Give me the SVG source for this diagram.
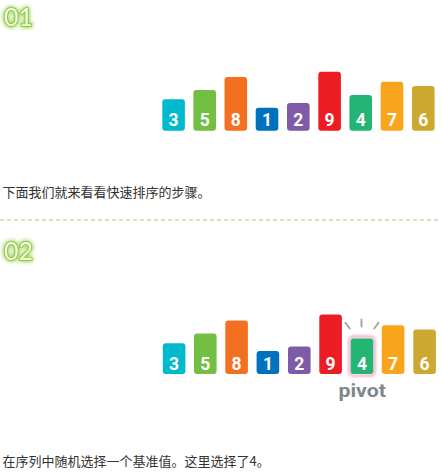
<svg xmlns="http://www.w3.org/2000/svg" width="441" height="472" viewBox="0 0 441 472">
<defs>
<filter id="glow" x="-50%" y="-50%" width="200%" height="200%">
<feGaussianBlur in="SourceAlpha" stdDeviation="2.2" result="b"/>
<feFlood flood-color="#9ed45a" result="c"/>
<feComposite in="c" in2="b" operator="in" result="g"/>
<feMerge><feMergeNode in="g"/><feMergeNode in="g"/><feMergeNode in="SourceGraphic"/></feMerge>
</filter>
<filter id="pinkglow" x="-50%" y="-50%" width="200%" height="200%">
<feGaussianBlur stdDeviation="1"/>
</filter>
<linearGradient id="hg" x1="0" y1="0" x2="0" y2="1">
<stop offset="0" stop-color="#ffffff"/>
<stop offset="1" stop-color="#eef9c8"/>
</linearGradient>
</defs>
<style>
.head{font-family:Lato,"Open Sans",sans-serif;font-size:25px;fill:url(#hg);stroke:#86c23a;stroke-width:1.7;paint-order:stroke;filter:url(#glow)}
.num{font-family:Roboto,"DejaVu Sans",sans-serif;font-weight:bold;font-size:17.5px;fill:#ffffff;text-anchor:middle}
.cap{font-family:"Noto Sans CJK SC","Liberation Sans",sans-serif;font-size:13px;fill:#333333}
.c3{fill:#00b9cd}.c5{fill:#72bf44}.c8{fill:#f37021}.c1{fill:#0071bc}.c2{fill:#7f5aa6}.c9{fill:#ed1c24}.c4{fill:#23b574}.c7{fill:#f8a51c}.c6{fill:#cda830}
.ray{stroke:#a8a8a8;stroke-width:2;stroke-linecap:round;fill:none}
</style>

<rect width="441" height="472" fill="#ffffff"/>

<g id="heading-01"><text class="head" x="4" y="26">01</text></g>

<g id="step1-bars">
<g id="s1-3"><rect class="c3" x="162.3" y="99.3" width="22.6" height="31.4" rx="3"/><text class="num" x="173.6" y="126.2">3</text></g>
<g id="s1-5"><rect class="c5" x="193.4" y="90" width="22.6" height="40.7" rx="3"/><text class="num" x="204.7" y="126.2">5</text></g>
<g id="s1-8"><rect class="c8" x="224.5" y="77" width="22.6" height="53.7" rx="3"/><text class="num" x="235.8" y="126.2">8</text></g>
<g id="s1-1"><rect class="c1" x="255.7" y="107.7" width="22.6" height="23" rx="3"/><text class="num" x="267" y="126.2">1</text></g>
<g id="s1-2"><rect class="c2" x="287" y="103" width="22.6" height="27.7" rx="3"/><text class="num" x="298.3" y="126.2">2</text></g>
<g id="s1-9"><rect class="c9" x="318.3" y="71.7" width="22.6" height="59" rx="3"/><text class="num" x="329.6" y="126.2">9</text></g>
<g id="s1-4"><rect class="c4" x="349.4" y="95" width="22.6" height="35.7" rx="3"/><text class="num" x="360.7" y="126.2">4</text></g>
<g id="s1-7"><rect class="c7" x="380.7" y="81.7" width="22.6" height="49" rx="3"/><text class="num" x="392" y="126.2">7</text></g>
<g id="s1-6"><rect class="c6" x="412" y="86" width="22.6" height="44.7" rx="3"/><text class="num" x="423.3" y="126.2">6</text></g>
</g>

<g id="caption-1"><text class="cap" x="2.5" y="196.5">下面我们就来看看快速排序的步骤。</text></g>

<g id="divider"><line x1="0" y1="219.8" x2="441" y2="219.8" stroke="#b7dc8c" stroke-width="1.2" stroke-dasharray="4 3"/></g>

<g id="heading-02"><text class="head" x="4" y="259.5">02</text></g>

<g id="step2-bars">
<g id="s2-3"><rect class="c3" x="162.8" y="343.2" width="22.6" height="30.8" rx="3"/><text class="num" x="174.1" y="369.6">3</text></g>
<g id="s2-5"><rect class="c5" x="194" y="333.4" width="22.6" height="40.6" rx="3"/><text class="num" x="205.3" y="369.6">5</text></g>
<g id="s2-8"><rect class="c8" x="225.3" y="320.6" width="22.6" height="53.4" rx="3"/><text class="num" x="236.6" y="369.6">8</text></g>
<g id="s2-1"><rect class="c1" x="256.6" y="351.1" width="22.6" height="22.9" rx="3"/><text class="num" x="267.9" y="369.6">1</text></g>
<g id="s2-2"><rect class="c2" x="288" y="346.6" width="22.6" height="27.4" rx="3"/><text class="num" x="299.3" y="369.6">2</text></g>
<g id="s2-9"><rect class="c9" x="319.3" y="314.5" width="22.6" height="59.5" rx="3"/><text class="num" x="330.6" y="369.6">9</text></g>
<g id="s2-4">
<rect x="349.2" y="336.6" width="25.6" height="39.2" rx="4.5" fill="none" stroke="#f5b3cb" stroke-width="2.6" filter="url(#pinkglow)"/>
<rect class="c4" x="350.7" y="338.4" width="22.6" height="35.6" rx="3"/><text class="num" x="362" y="369.6">4</text>
</g>
<g id="s2-7"><rect class="c7" x="381.8" y="325.3" width="22.6" height="48.7" rx="3"/><text class="num" x="393.1" y="369.6">7</text></g>
<g id="s2-6"><rect class="c6" x="413.3" y="329.4" width="22.6" height="44.6" rx="3"/><text class="num" x="424.6" y="369.6">6</text></g>
</g>

<g id="pivot-marker">
<line class="ray" x1="345.5" y1="322.8" x2="349.8" y2="328.5"/>
<line class="ray" x1="361.5" y1="319.5" x2="361.5" y2="326.5"/>
<line class="ray" x1="378.5" y1="322.8" x2="374.2" y2="328.5"/>
<text x="338.5" y="396.6" textLength="47.5" lengthAdjust="spacingAndGlyphs" font-family="Roboto,'DejaVu Sans',sans-serif" font-weight="bold" font-size="19" fill="#7d878c">pivot</text>
</g>

<g id="caption-2"><text class="cap" x="2.5" y="466">在序列中随机选择一个基准值。这里选择了4。</text></g>
</svg>
